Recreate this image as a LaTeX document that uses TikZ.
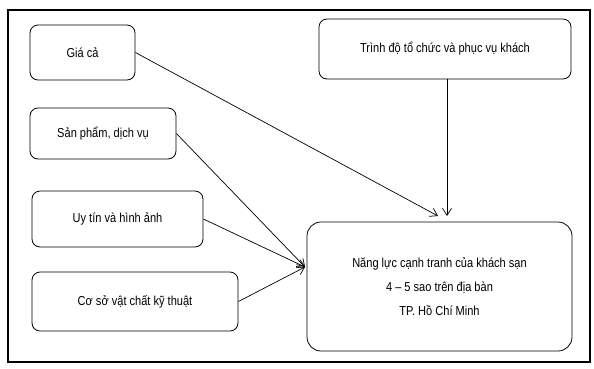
\documentclass[tikz,border=0pt]{standalone}
\usepackage{fontspec}
\setmainfont[FakeStretch=0.85]{Liberation Sans}
\usetikzlibrary{arrows.meta}

\begin{document}
\begin{tikzpicture}[x=1pt, y=-1pt,
    factor/.style={draw, rounded corners=8pt, line width=0.8pt, font=\fontsize{13}{15}\selectfont},
    target/.style={draw, rounded corners=14pt, line width=0.8pt, align=center, font=\fontsize{13}{24}\selectfont},
    link/.style={-{Straight Barb[length=7pt, width=9pt]}, line width=0.7pt}]
    \useasboundingbox (0,0) rectangle (594,368);
    \draw[line width=1.8pt] (8,10) rectangle (590,362);

    \node[factor, minimum width=105pt, minimum height=55pt] (gia) at (82.5,52.5) {Giá cả};
    \node[factor, minimum width=146pt, minimum height=51pt] (sanpham) at (103,133.5) {Sản phẩm, dịch vụ};
    \node[factor, minimum width=171pt, minimum height=56pt] (uytin) at (117.5,219) {Uy tín và hình ảnh};
    \node[factor, minimum width=206pt, minimum height=59pt] (coso) at (135,301.5) {Cơ sở vật chất kỹ thuật};
    \node[factor, minimum width=252pt, minimum height=60pt] (trinhdo) at (445,49) {Trình độ tổ chức và phục vụ khách};
    \node[target, minimum width=265pt, minimum height=129pt] (nangluc) at (439.5,286.5)
        {Năng lực cạnh tranh của khách sạn\\4 – 5 sao trên địa bàn\\TP. Hồ Chí Minh};

    \coordinate (topin) at (438,216);
    \coordinate (midin) at (447,216);
    \coordinate (leftin) at (305,267);

    \draw[link] (gia.east) -- (topin);
    \draw[link] (trinhdo.south -| midin) -- (midin);
    \draw[link] (sanpham.east) -- (leftin);
    \draw[link] (uytin.east) -- (leftin);
    \draw[link] (coso.east) -- (leftin);
\end{tikzpicture}
\end{document}
